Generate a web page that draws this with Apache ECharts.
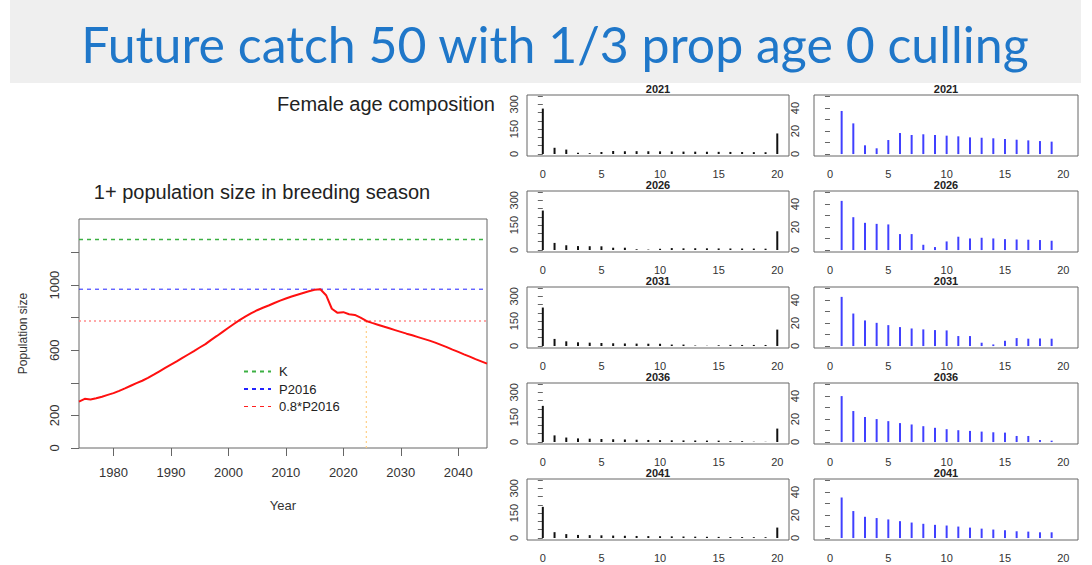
<!DOCTYPE html>
<html>
<head>
<meta charset="utf-8">
<title>Future catch 50 with 1/3 prop age 0 culling</title>
<script src="https://cdn.jsdelivr.net/npm/echarts@6/dist/echarts.min.js"></script>
<style>
  html, body { margin: 0; padding: 0; background: #fff; }
  #chart { width: 1092px; height: 565px; }
</style>
</head>
<body>
<div id="chart"></div>
<script>
  // 1+ population size, one value per year starting at popFirstYear
  const popFirstYear = 1974;
  const popSize = [
    285, 302, 298, 305, 315, 326, 337, 351, 366, 382,
    398, 413, 430, 450, 471, 492, 512, 532, 553, 574,
    595, 617, 638, 664, 688, 713, 738, 763, 787, 808,
    828, 846, 861, 875, 890, 905, 918, 930, 941, 952,
    962, 971, 975, 938, 855, 830, 834, 821, 817, 800,
    780, 768, 757, 746, 735, 724, 713, 702, 692, 681,
    670, 659, 647, 633, 619, 604, 590, 575, 561, 546,
    532, 518
  ];
  const K = 1280;
  const P2016 = 975;
  const cutYear = 2024;
  const popYTicks = [0, 200, 400, 600, 800, 1000, 1200];
  const popYLabels = [0, 200, 600, 1000];
  const popXLabels = [1980, 1990, 2000, 2010, 2020, 2030, 2040];

  // female age composition
  const ageYears = ['2021', '2026', '2031', '2036', '2041'];
  const age0 = [274, 238, 232, 218, 188];
  const age20 = [124, 113, 99, 81, 63];
  const fem2021 = [37.5, 26.7, 7.6, 5.0, 12.2, 18.3, 16.6, 17.2, 16.6, 16.0, 15.4, 14.5, 14.2, 13.7, 13.1, 12.5, 11.9, 11.3, 10.8];
  const fem2026 = [42.8, 28.6, 23.7, 22.8, 22.3, 13.9, 13.9, 4.6, 2.6, 7.5, 11.6, 10.1, 10.7, 10.1, 9.5, 9.2, 9.0, 8.7, 8.1];
  const fem2031 = [42.8, 28.3, 22.3, 20.2, 18.2, 16.5, 15.3, 14.5, 13.9, 13.6, 8.7, 8.7, 2.9, 1.4, 4.6, 6.9, 6.4, 6.6, 6.4];
  const fem2036 = [40.0, 27.0, 21.8, 20.0, 18.2, 16.5, 15.3, 13.8, 12.4, 11.2, 10.3, 9.7, 9.1, 8.5, 8.2, 5.3, 5.3, 1.8, 1.2];
  const fem2041 = [35.3, 23.5, 18.5, 17.4, 16.2, 14.7, 13.5, 12.4, 11.5, 10.9, 10.0, 9.1, 8.2, 7.4, 6.8, 5.9, 5.6, 5.0, 5.0];
  const femAges1to19 = [fem2021, fem2026, fem2031, fem2036, fem2041];
  const allYTicks = [0, 50, 100, 150, 200, 250, 300, 350];
  const allYLabels = [0, 150, 300];
  const femYTicks = [0, 10, 20, 30, 40, 50];
  const femYLabels = [0, 20, 40];
  const ageXLabels = [0, 5, 10, 15, 20];

  const FONT = '"Liberation Sans", Arial, sans-serif';
  const plain = v => String(v);
  const chart = echarts.init(document.getElementById('chart'), null, { renderer: 'svg' });

  const grids = [{ left: 79, top: 219, width: 408, height: 229, show: true, borderColor: '#666', borderWidth: 1 }];
  const xAxes = [{
    gridIndex: 0, type: 'value', min: popFirstYear, max: 2045,
    name: 'Year', nameLocation: 'middle', nameGap: 51,
    nameTextStyle: { fontFamily: FONT, fontSize: 13, color: '#333' },
    axisLine: { show: false }, splitLine: { show: false },
    axisTick: { show: true, customValues: popXLabels, length: 8, lineStyle: { color: '#666' } },
    axisLabel: { customValues: popXLabels, formatter: plain, margin: 18, fontFamily: FONT, fontSize: 13, color: '#333' }
  }];
  const yAxes = [{
    gridIndex: 0, type: 'value', min: 0, max: 1406,
    name: 'Population size', nameLocation: 'middle', nameGap: 50, nameRotate: 90,
    nameTextStyle: { fontFamily: FONT, fontSize: 12, color: '#333' },
    axisLine: { show: false }, splitLine: { show: false },
    axisTick: { show: true, customValues: popYTicks, length: 8, lineStyle: { color: '#666' } },
    axisLabel: { customValues: popYLabels, formatter: plain, rotate: 90, margin: 18, fontFamily: FONT, fontSize: 13, color: '#333' }
  }];

  const series = [
    {
      name: 'K', type: 'line', xAxisIndex: 0, yAxisIndex: 0, symbol: 'none', silent: true,
      data: [[popFirstYear, K], [2045, K]],
      itemStyle: { color: '#3cb043' },
      lineStyle: { color: '#3cb043', width: 1.3, type: [4, 4] }
    },
    {
      name: 'P2016', type: 'line', xAxisIndex: 0, yAxisIndex: 0, symbol: 'none', silent: true,
      data: [[popFirstYear, P2016], [2045, P2016]],
      itemStyle: { color: '#2222ff' },
      lineStyle: { color: '#2222ff', width: 1, type: [4, 4] }
    },
    {
      name: '0.8*P2016', type: 'line', xAxisIndex: 0, yAxisIndex: 0, symbol: 'none', silent: true,
      data: [[popFirstYear, 0.8 * P2016], [2045, 0.8 * P2016]],
      itemStyle: { color: '#ff8c8c' },
      lineStyle: { color: '#ff8c8c', width: 1.5, type: [2, 3] }
    },
    {
      name: 'cut', type: 'line', xAxisIndex: 0, yAxisIndex: 0, symbol: 'none', silent: true,
      data: [[cutYear, 0], [cutYear, 0.8 * P2016]],
      lineStyle: { color: '#ffcf85', width: 1.2, type: [2, 3] }
    },
    {
      name: 'population', type: 'line', xAxisIndex: 0, yAxisIndex: 0, symbol: 'none',
      data: popSize.map((v, i) => [popFirstYear + i, v]),
      lineStyle: { color: '#ff1010', width: 2 }
    }
  ];

  const graphics = [
    { type: 'rect', shape: { x: 10, y: 0, width: 1071, height: 83 }, style: { fill: '#efefef' }, z: -10 },
    { type: 'text', x: 555, y: 44, style: { text: 'Future catch 50 with 1/3 prop age 0 culling', fill: '#1f77c9',
      font: '50px Lato, "Open Sans", sans-serif', textAlign: 'center', textVerticalAlign: 'middle' } },
    { type: 'text', x: 262, y: 192, style: { text: '1+ population size in breeding season', fill: '#222',
      font: '20px ' + FONT, textAlign: 'center', textVerticalAlign: 'middle' } },
    { type: 'text', x: 386, y: 104, style: { text: 'Female age composition', fill: '#222',
      font: '20px ' + FONT, textAlign: 'center', textVerticalAlign: 'middle' } }
  ];

  ageYears.forEach((yr, i) => {
    const top = 95 + 96 * i;
    [0, 1].forEach(col => {
      const gi = grids.length;
      const left = col === 0 ? 527 : 814;
      const width = col === 0 ? 262 : 264;
      grids.push({ left: left, top: top, width: width, height: 61, show: true, borderColor: '#666', borderWidth: 1 });
      xAxes.push({
        gridIndex: gi, type: 'value', min: col === 0 ? -1.35 : -1.37, max: col === 0 ? 21 : 21.26,
        axisLine: { show: false }, axisTick: { show: false }, splitLine: { show: false },
        axisLabel: { customValues: ageXLabels, margin: 12, fontFamily: FONT, fontSize: 11, color: '#333' }
      });
      yAxes.push({
        gridIndex: gi, type: 'value',
        min: col === 0 ? -12 : -1.7, max: col === 0 ? 356 : 51.4,
        axisLine: { show: false }, splitLine: { show: false },
        axisTick: { show: true, customValues: col === 0 ? allYTicks : femYTicks, length: 5, lineStyle: { color: '#666' } },
        axisLabel: { customValues: col === 0 ? allYLabels : femYLabels, rotate: 90, margin: col === 0 ? 8 : 14,
          fontFamily: FONT, fontSize: 11, color: '#333' }
      });
      const data = col === 0
        ? [[0, age0[i]]].concat(femAges1to19[i].map((v, j) => [j + 1, v]), [[20, age20[i]]])
        : femAges1to19[i].map((v, j) => [j + 1, v]);
      series.push({
        name: (col === 0 ? 'all ' : 'female ') + yr, type: 'bar', xAxisIndex: gi, yAxisIndex: gi,
        barWidth: 2, silent: true, data: data,
        itemStyle: { color: col === 0 ? '#111' : '#4040ff' }
      });
      graphics.push({ type: 'text', x: left + width / 2, y: top - 6, style: { text: yr, fill: '#222',
        font: 'bold 11px ' + FONT, textAlign: 'center', textVerticalAlign: 'middle' } });
    });
  });

  const option = {
    animation: false,
    backgroundColor: '#fff',
    grid: grids,
    xAxis: xAxes,
    yAxis: yAxes,
    legend: {
      orient: 'vertical', left: 238, top: 360,
      itemWidth: 27, itemHeight: 12, itemGap: 4.5,
      selectedMode: false,
      itemStyle: { color: 'rgba(0,0,0,0)', borderColor: 'rgba(0,0,0,0)', borderWidth: 0 },
      textStyle: { fontFamily: FONT, fontSize: 13, color: '#222', padding: [0, 0, 0, 3] },
      data: ['K', 'P2016', { name: '0.8*P2016', lineStyle: { color: '#ff2020', type: [4, 4], width: 1 } }]
    },
    graphic: graphics,
    series: series
  };

  chart.setOption(option);
</script>
</body>
</html>
